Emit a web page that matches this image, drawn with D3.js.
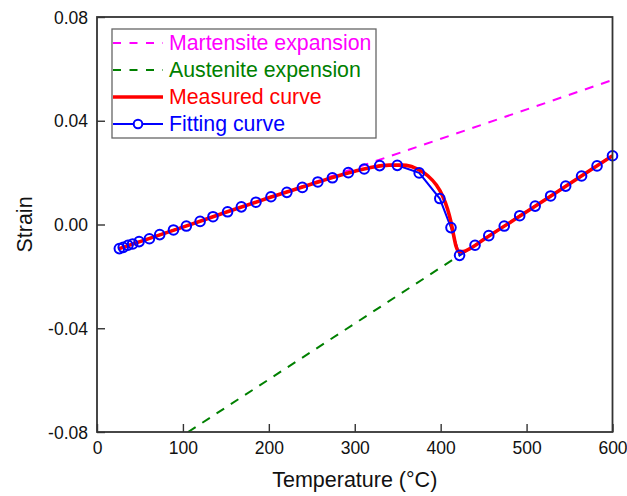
<!DOCTYPE html>
<html>
<head>
<meta charset="utf-8">
<script src="https://cdn.jsdelivr.net/npm/d3@7"></script>
<style>
  html, body { margin: 0; padding: 0; background: #fff; }
  svg { display: block; font-family: "Liberation Sans", Arial, sans-serif; }
</style>
</head>
<body>
<svg id="chart" width="627" height="496"></svg>
<script>
// Fitted strain points (circles)
const fitTemp = [26, 30.5, 36, 41.5, 49, 61, 73, 89, 104, 120, 135, 152, 168, 185, 202.5,
  221, 239, 257, 274, 292.5, 311, 329, 349.5, 375, 399, 412, 422, 440, 456, 474, 492,
  510, 528, 545.5, 564, 582, 600];
const fitStrain = [-0.0093, -0.0088, -0.0080, -0.0075, -0.0066, -0.0055, -0.0039, -0.0021,
  -0.0006, 0.0012, 0.0030, 0.0049, 0.0068, 0.0086, 0.0107, 0.0124, 0.0143, 0.0164,
  0.0180, 0.0200, 0.0214, 0.0227, 0.0228, 0.0199, 0.0100, -0.0012, -0.0119, -0.0080,
  -0.0043, -0.0006, 0.0034, 0.0071, 0.0110, 0.0148, 0.0187, 0.0226, 0.0265];

// Measured dilatometry curve
const measTemp = [25, 50, 100, 150, 200, 250, 280, 300, 320, 340, 355, 365, 375, 385,
  395, 402, 408, 412, 415, 418, 421, 426, 435, 450, 500, 550, 600];
const measStrain = [-0.0094, -0.0066, -0.0010, 0.0047, 0.0103, 0.0156, 0.0187, 0.0205,
  0.0221, 0.0229, 0.0229, 0.0225, 0.0210, 0.0188, 0.0152, 0.0112, 0.0060, 0.0010,
  -0.0040, -0.0085, -0.0104, -0.0104, -0.0091, -0.0058, 0.0049, 0.0157, 0.0265];

// Linear thermal expansion of the two phases
const martTemp = [25, 600];
const martStrain = [-0.0095, 0.0557];
const austTemp = [106, 600];
const austStrain = [-0.08, 0.0265];

const xTicks = [0, 100, 200, 300, 400, 500, 600];
const yTicks = [-0.08, -0.04, 0.00, 0.04, 0.08];

const legendLabels = ["Martensite expansion", "Austenite expension", "Measured curve", "Fitting curve"];
const legendColors = ["#ff00ff", "#008000", "#ff0000", "#0000ff"];

const svg = d3.select("#chart");
const m = { left: 97, right: 612.5, top: 17, bottom: 432 };

const x = d3.scaleLinear().domain([0, 600]).range([m.left, m.right]);
const y = d3.scaleLinear().domain([-0.08, 0.08]).range([m.bottom, m.top]);

const zip = (a, b) => a.map((v, i) => [v, b[i]]);
const line = d3.line().x(d => x(d[0])).y(d => y(d[1]));

const plot = svg.append("g");
plot.append("clipPath").attr("id", "clip")
  .append("rect").attr("x", m.left).attr("y", m.top)
  .attr("width", m.right - m.left).attr("height", m.bottom - m.top);

const inner = plot.append("g").attr("clip-path", "url(#clip)");

// Phase expansion lines
inner.append("path").datum(zip(martTemp, martStrain)).attr("d", line)
  .attr("fill", "none").attr("stroke", legendColors[0]).attr("stroke-width", 2)
  .attr("stroke-dasharray", "9,8");
inner.append("path").datum(zip(austTemp, austStrain)).attr("d", line)
  .attr("fill", "none").attr("stroke", legendColors[1]).attr("stroke-width", 2)
  .attr("stroke-dasharray", "9,8");

// Fitting curve line (under the measured curve)
const fit = zip(fitTemp, fitStrain);
inner.append("path").datum(fit).attr("d", line)
  .attr("fill", "none").attr("stroke", legendColors[3]).attr("stroke-width", 2);

// Measured curve
inner.append("path").datum(zip(measTemp, measStrain))
  .attr("d", d3.line().x(d => x(d[0])).y(d => y(d[1])).curve(d3.curveMonotoneX))
  .attr("fill", "none").attr("stroke", legendColors[2]).attr("stroke-width", 3.6)
  .attr("stroke-linejoin", "round");

// Fitting curve markers
plot.append("g").selectAll("circle").data(fit).join("circle")
  .attr("cx", d => x(d[0])).attr("cy", d => y(d[1])).attr("r", 4.8)
  .attr("fill", "none").attr("stroke", legendColors[3]).attr("stroke-width", 2);

// Axes (ticks pointing inward)
const xAxis = svg.append("g").attr("transform", `translate(0,${m.bottom})`)
  .call(d3.axisBottom(x).tickValues(xTicks).tickSizeInner(-8).tickSizeOuter(0)
    .tickFormat(d3.format("d")));
xAxis.select(".domain").remove();
xAxis.selectAll(".tick line").attr("stroke", "#333").attr("stroke-width", 1.4);
xAxis.selectAll(".tick text").attr("y", 10).attr("dy", "0.71em")
  .attr("font-size", 17.5).attr("fill", "#111")
  .attr("font-family", "'Liberation Sans', Arial, sans-serif");

const yAxis = svg.append("g").attr("transform", `translate(${m.left},0)`)
  .call(d3.axisLeft(y).tickValues(yTicks).tickSizeInner(-8).tickSizeOuter(0)
    .tickFormat(d3.format(".2f")));
yAxis.select(".domain").remove();
yAxis.selectAll(".tick line").attr("stroke", "#333").attr("stroke-width", 1.4);
yAxis.selectAll(".tick text").attr("x", -9).attr("dy", "0.35em")
  .attr("font-size", 17.5).attr("fill", "#111")
  .attr("font-family", "'Liberation Sans', Arial, sans-serif")
  .text(d => d3.format(".2f")(d).replace("−", "-"));

// Frame
svg.append("rect").attr("x", m.left).attr("y", m.top)
  .attr("width", m.right - m.left).attr("height", m.bottom - m.top)
  .attr("fill", "none").attr("stroke", "#333").attr("stroke-width", 1.8);

// Axis titles
svg.append("text").attr("x", (m.left + m.right) / 2).attr("y", 487)
  .attr("text-anchor", "middle").attr("font-size", 21.5).attr("fill", "#111")
  .text("Temperature (°C)");
svg.append("text").attr("transform", `translate(32,${(m.top + m.bottom) / 2}) rotate(-90)`)
  .attr("text-anchor", "middle").attr("font-size", 21.5).attr("fill", "#111")
  .text("Strain");

// Legend
const lg = svg.append("g");
lg.append("rect").attr("x", 112).attr("y", 29).attr("width", 264).attr("height", 109)
  .attr("fill", "#fff").attr("stroke", "#666").attr("stroke-width", 1.3);
const rows = lg.selectAll("g.row").data(legendLabels).join("g")
  .attr("class", "row").attr("transform", (d, i) => `translate(0,${43 + i * 27})`);
rows.append("line").attr("x1", 113).attr("x2", 163).attr("y1", 0).attr("y2", 0)
  .attr("stroke", (d, i) => legendColors[i])
  .attr("stroke-width", (d, i) => i === 2 ? 3.6 : 2)
  .attr("stroke-dasharray", (d, i) => i < 2 ? "8,8.5" : null);
rows.filter((d, i) => i === 3).append("circle").attr("cx", 138).attr("cy", 0).attr("r", 4.3)
  .attr("fill", "#fff").attr("stroke", legendColors[3]).attr("stroke-width", 2);
rows.append("text").attr("x", 169).attr("y", 0).attr("dy", "0.35em")
  .attr("font-size", 21.3).attr("fill", (d, i) => legendColors[i]).text(d => d);
</script>
</body>
</html>
